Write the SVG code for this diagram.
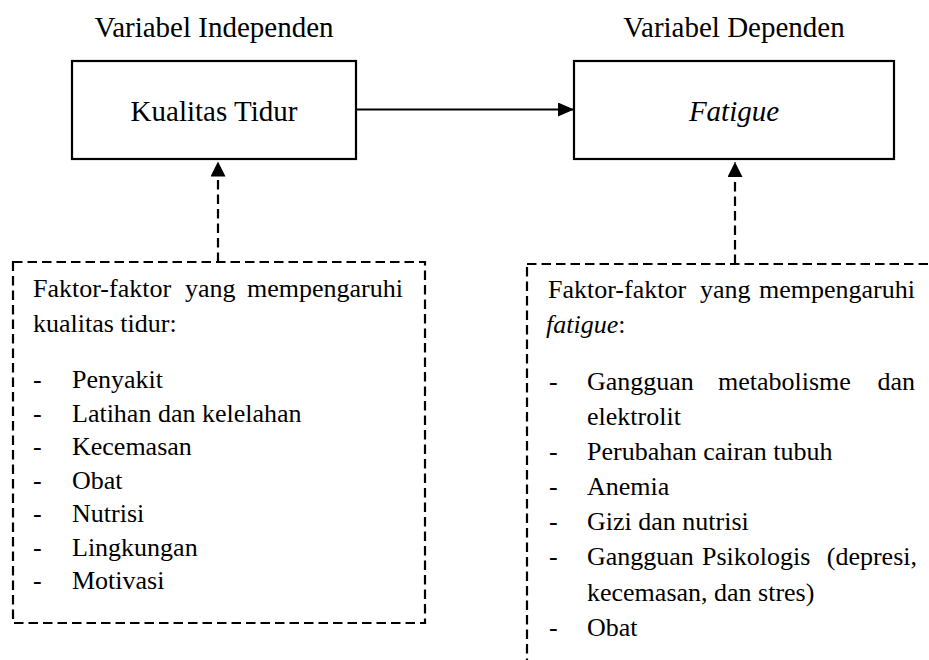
<svg xmlns="http://www.w3.org/2000/svg" width="929" height="660" viewBox="0 0 929 660">
<defs>
  <marker id="ah" markerUnits="userSpaceOnUse" markerWidth="17" markerHeight="14" refX="16" refY="7" orient="auto">
    <path d="M0,0 L16,7 L0,14 Z" fill="#000" stroke="none"/>
  </marker>
  <marker id="ahv" markerUnits="userSpaceOnUse" markerWidth="16" markerHeight="16" refX="15" refY="7.5" orient="auto">
    <path d="M0,0 L15,7.5 L0,15 Z" fill="#000" stroke="none"/>
  </marker>
</defs>

<g id="connectors" fill="none" stroke="#000" stroke-width="2.2">
  <line x1="356" y1="109.5" x2="574" y2="109.5" marker-end="url(#ah)"/>
  <line x1="218" y1="262" x2="218" y2="161.5" stroke-dasharray="9.5 5" marker-end="url(#ahv)"/>
  <line x1="735" y1="264" x2="735" y2="162" stroke-dasharray="9.5 5" marker-end="url(#ahv)"/>
</g>

<g id="kualitas-tidur" font-family="Liberation Serif" font-size="29" text-anchor="middle">
  <text x="214" y="37">Variabel Independen</text>
  <rect x="72" y="61" width="284" height="98" fill="#fff" stroke="#000" stroke-width="2.2"/>
  <text x="214" y="121">Kualitas Tidur</text>
</g>

<g id="fatigue" font-family="Liberation Serif" font-size="29" text-anchor="middle">
  <text x="734" y="37">Variabel Dependen</text>
  <rect x="574" y="61" width="320" height="98" fill="#fff" stroke="#000" stroke-width="2.2"/>
  <text x="734" y="121" font-style="italic">Fatigue</text>
</g>

<g id="faktor-kualitas-tidur" font-family="Liberation Serif" font-size="26">
  <rect x="13" y="262" width="412" height="361" fill="none" stroke="#000" stroke-width="2.2" stroke-dasharray="9.5 5"/>
  <text y="297"><tspan x="33">Faktor-faktor</tspan><tspan x="185">yang</tspan><tspan x="403" text-anchor="end">mempengaruhi</tspan></text>
  <text x="33" y="332">kualitas tidur:</text>
  <text x="33" y="388">-</text>
  <text x="72" y="388">Penyakit</text>
  <text x="33" y="421.5">-</text>
  <text x="72" y="421.5">Latihan dan kelelahan</text>
  <text x="33" y="455">-</text>
  <text x="72" y="455">Kecemasan</text>
  <text x="33" y="488.5">-</text>
  <text x="72" y="488.5">Obat</text>
  <text x="33" y="522">-</text>
  <text x="72" y="522">Nutrisi</text>
  <text x="33" y="555.5">-</text>
  <text x="72" y="555.5">Lingkungan</text>
  <text x="33" y="589">-</text>
  <text x="72" y="589">Motivasi</text>
</g>

<g id="faktor-fatigue" font-family="Liberation Serif" font-size="26">
  <rect x="527" y="264" width="420" height="420" fill="none" stroke="#000" stroke-width="2.2" stroke-dasharray="9.5 5"/>
  <text y="298"><tspan x="548">Faktor-faktor</tspan><tspan x="700">yang</tspan><tspan x="915" text-anchor="end">mempengaruhi</tspan></text>
  <text x="546" y="333"><tspan font-style="italic">fatigue</tspan>:</text>
  <text x="549" y="390">-</text>
  <text y="390"><tspan x="587">Gangguan</tspan><tspan x="718">metabolisme</tspan><tspan x="915" text-anchor="end">dan</tspan></text>
  <text x="587" y="425">elektrolit</text>
  <text x="549" y="460">-</text>
  <text x="587" y="460">Perubahan cairan tubuh</text>
  <text x="549" y="495">-</text>
  <text x="587" y="495">Anemia</text>
  <text x="549" y="530">-</text>
  <text x="587" y="530">Gizi dan nutrisi</text>
  <text x="549" y="565">-</text>
  <text y="565"><tspan x="587">Gangguan</tspan><tspan x="702">Psikologis</tspan><tspan x="917" text-anchor="end">(depresi,</tspan></text>
  <text x="587" y="601">kecemasan, dan stres)</text>
  <text x="549" y="636">-</text>
  <text x="587" y="636">Obat</text>
</g>
</svg>
